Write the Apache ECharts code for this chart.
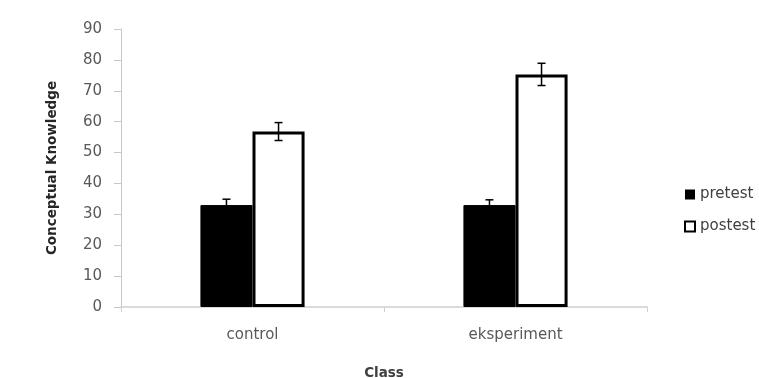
<!DOCTYPE html>
<html><head><meta charset="utf-8">
<script src="https://cdn.jsdelivr.net/npm/echarts@6/dist/echarts.min.js"></script>
<style>html,body{margin:0;padding:0;background:#fff}#c{width:759px;height:378px}</style>
</head><body><div id="c"></div>
<script>
const categories = ['control', 'eksperiment'];
const pretest = [33.0, 33.0];
const postest = [56.8, 75.3];
const pretestErr = [1.9, 1.7];
const postestErr = [2.9, 3.6];
const yTicks = [0, 10, 20, 30, 40, 50, 60, 70, 80, 90];

const FONT = 'DejaVu Sans';
const BAR_FRAC = 0.198;

function errItem(params, api) {
  const x = api.value(0), v = api.value(1), e = api.value(2);
  const band = api.size([1, 0])[0];
  const bw = band * BAR_FRAC;
  const off = params.seriesName === 'pretest_err' ? -bw / 2 : bw / 2;
  const hi = api.coord([x, v + e]);
  const lo = api.coord([x, v - e]);
  const cx = hi[0] + off;
  const cap = 4;
  const st = { stroke: '#000', lineWidth: 1.5 };
  return { type: 'group', children: [
    { type: 'line', shape: { x1: cx, y1: hi[1], x2: cx, y2: lo[1] }, style: st },
    { type: 'line', shape: { x1: cx - cap, y1: hi[1], x2: cx + cap, y2: hi[1] }, style: st },
    { type: 'line', shape: { x1: cx - cap, y1: lo[1], x2: cx + cap, y2: lo[1] }, style: st }
  ]};
}

const chart = echarts.init(document.getElementById('c'), null, { renderer: 'canvas' });
chart.setOption({
  animation: false,
  backgroundColor: '#fff',
  grid: { left: 121, right: 112, top: 29, bottom: 71, containLabel: false, outerBoundsMode: 'none' },
  legend: {
    orient: 'vertical', left: 679, top: 182,
    itemWidth: 10, itemHeight: 10, itemGap: 17,
    textStyle: { fontFamily: FONT, fontSize: 15, color: '#404040' },
    data: [
      { name: 'pretest', icon: 'rect', itemStyle: { color: '#000', borderColor: '#000', borderWidth: 0 } },
      { name: 'postest', icon: 'rect', itemStyle: { color: '#fff', borderColor: '#000', borderWidth: 2 } }
    ]
  },
  xAxis: {
    type: 'category', data: categories,
    name: 'Class', nameLocation: 'middle', nameGap: 59,
    nameTextStyle: { fontFamily: FONT, fontSize: 13.5, fontWeight: 'bold', color: '#404040' },
    axisLine: { lineStyle: { color: '#d0d0d0', width: 1.5 } },
    axisTick: { show: true, length: 5, interval: 0, lineStyle: { color: '#d0d0d0' } },
    axisLabel: { fontFamily: FONT, fontSize: 15, color: '#595959', margin: 21 }
  },
  yAxis: {
    type: 'value', min: yTicks[0], max: yTicks[yTicks.length - 1], interval: 10,
    name: 'Conceptual Knowledge', nameLocation: 'middle', nameGap: 62,
    nameTextStyle: { fontFamily: FONT, fontSize: 13.5, fontWeight: 'bold', color: '#262626' },
    axisLine: { show: true, lineStyle: { color: '#c8c8c8', width: 1 } },
    axisTick: { show: true, length: 7, lineStyle: { color: '#c8c8c8' } },
    splitLine: { show: false },
    axisLabel: { fontFamily: FONT, fontSize: 15, color: '#595959', margin: 19 }
  },
  series: [
    { name: 'pretest', type: 'bar', data: pretest, barWidth: (BAR_FRAC * 100) + '%', barGap: '0%',
      itemStyle: { color: '#000', borderColor: '#000', borderWidth: 1 } },
    { name: 'postest', type: 'bar', data: postest, barWidth: (BAR_FRAC * 100) + '%', barGap: '0%',
      itemStyle: { color: '#fff', borderColor: '#000', borderWidth: 3 } },
    { name: 'pretest_err', type: 'custom', renderItem: errItem, z: 10,
      data: pretest.map((v, i) => [i, v, pretestErr[i]]) },
    { name: 'postest_err', type: 'custom', renderItem: errItem, z: 10,
      data: postest.map((v, i) => [i, v, postestErr[i]]) }
  ]
});
</script></body></html>
